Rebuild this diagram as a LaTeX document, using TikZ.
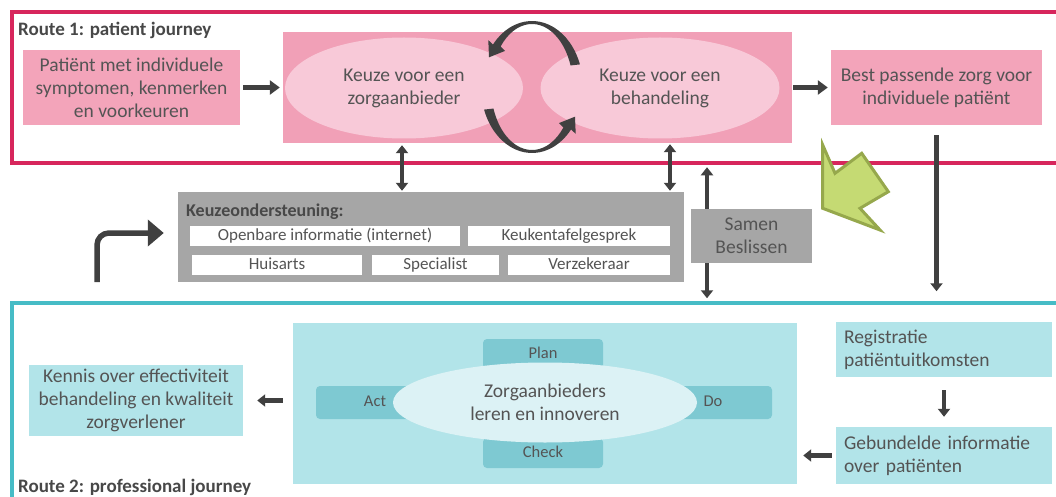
\documentclass[tikz,border=0pt]{standalone}
\usepackage{fontspec}
\setmainfont{Carlito}
\usetikzlibrary{positioning, arrows.meta, shapes.geometric, calc}
\definecolor{routered}{RGB}{215,38,92}
\definecolor{routeteal}{RGB}{70,188,198}
\definecolor{pinkbox}{RGB}{243,164,186}
\definecolor{pinkblock}{RGB}{241,160,183}
\definecolor{pinklight}{RGB}{248,201,216}
\definecolor{tealbox}{RGB}{178,228,233}
\definecolor{pdcateal}{RGB}{126,201,210}
\definecolor{teallight}{RGB}{220,242,245}
\definecolor{greybox}{RGB}{166,166,166}
\definecolor{txtgray}{RGB}{84,84,84}
\definecolor{lblgray}{RGB}{72,72,72}
\definecolor{arrowgray}{RGB}{64,64,64}
\definecolor{greenfill}{RGB}{197,218,115}
\definecolor{greenedge}{RGB}{150,168,76}

\begin{document}
\begin{tikzpicture}[x=1pt, y=-1pt,
    box/.style={rectangle, align=center, inner sep=0pt, text=txtgray, font=\fontsize{19.5}{23}\selectfont},
    ell/.style={ellipse, align=center, inner sep=0pt, text=txtgray, font=\fontsize{19.5}{23}\selectfont},
    tag/.style={rectangle, fill=white, inner sep=0pt, minimum height=20pt, text height=12pt, text depth=3.5pt, text=txtgray, font=\fontsize{17}{19}\selectfont},
    pdca/.style={rectangle, rounded corners=4pt, fill=pdcateal, inner sep=0pt, text height=12pt, text depth=3.5pt, text=txtgray, font=\fontsize{16.5}{19}\selectfont},
    frame/.style={rectangle, draw, line width=3.5pt, inner sep=0pt},
    route/.style={anchor=west, inner sep=0pt, text=lblgray, font=\fontsize{19}{21}\selectfont\bfseries},
    arr/.style={-{Triangle[length=10pt,width=14pt]}, line width=5.5pt, draw=arrowgray},
    sarr/.style={-{Triangle[length=8pt,width=12pt]}, line width=4.5pt, draw=arrowgray},
    dbl/.style={{Triangle[length=8pt,width=12pt]}-{Triangle[length=8pt,width=12pt]}, line width=4.5pt, draw=arrowgray}
]
    \useasboundingbox (0,0) rectangle (1056,497);
    \clip (0,0) rectangle (1056,497);
    \fill[white] (0,0) rectangle (1056,497);

    % route frames
    \node[frame, draw=routered, minimum width=1062pt, minimum height=151pt] (redframe) at (543,87.5) {};
    \node[frame, draw=routeteal, minimum width=1062pt, minimum height=210pt] (tealframe) at (543,408) {};
    \node[route] (route1) at (18,30) {Route 1: patient journey};
    \node[route] (route2) at (18,487) {Route 2: professional journey};

    % patient journey
    \node[box, fill=pinkbox, minimum width=217pt, minimum height=75pt] (patient) at (131.5,87.5) {Patiënt met individuele\\symptomen, kenmerken\\en voorkeuren};
    \node[box, fill=pinkblock, minimum width=509pt, minimum height=111pt] (keuzeblok) at (537.5,87.5) {};
    \node[ell, fill=pinklight, minimum width=238pt, minimum height=101pt] (aanbieder) at (404,88) {Keuze voor een\\zorgaanbieder};
    \node[ell, fill=pinklight, minimum width=239pt, minimum height=101pt] (behandeling) at (660,88) {Keuze voor een\\behandeling};
    \node[box, fill=pinkbox, minimum width=211pt, minimum height=75pt] (bestzorg) at (936.5,87.5) {Best passende zorg voor\\individuele patiënt};

    % cycle between the two choices
    \fill[arrowgray] (532,87) ++(-20:51 and 66) arc[start angle=-20, end angle=-140, x radius=51, y radius=66]
        -- (488.3,40.1) -- (489,57.3) -- (505.1,50.9) -- (500.6,46.5)
        arc[start angle=-140, end angle=-20, x radius=41, y radius=63] -- cycle;
    \fill[arrowgray] (532,87) ++(160:51 and 66) arc[start angle=160, end angle=40, x radius=51, y radius=66]
        -- (575.7,133.9) -- (575,116.7) -- (558.9,123.1) -- (563.4,127.5)
        arc[start angle=40, end angle=160, x radius=41, y radius=63] -- cycle;

    \draw[arr, shorten <=3pt, shorten >=3pt] (patient) -- (keuzeblok);
    \draw[arr, shorten <=1pt, shorten >=3pt] (keuzeblok) -- (bestzorg);

    % keuzeondersteuning
    \node[box, fill=greybox, minimum width=506pt, minimum height=90pt] (steun) at (431,237) {};
    \node[anchor=west, inner sep=0pt, text=lblgray, font=\fontsize{18}{20}\selectfont\bfseries] (steuntitel) at (186,212) {Keuzeondersteuning:};
    \node[tag, minimum width=270pt] (openbaar) at (325,236) {Openbare informatie (internet)};
    \node[tag, minimum width=202pt] (keukentafel) at (569,236) {Keukentafelgesprek};
    \node[tag, minimum width=170pt] (huisarts) at (277,265) {Huisarts};
    \node[tag, minimum width=127pt] (specialist) at (435.5,265) {Specialist};
    \node[tag, minimum width=162pt] (verzekeraar) at (589,265) {Verzekeraar};

    \coordinate (d1) at (402,0);
    \coordinate (d2) at (670,0);
    \coordinate (sb) at (707,0);
    \draw[dbl, shorten <=2pt, shorten >=1pt] (d1 |- keuzeblok.south) -- (d1 |- steun.north);
    \draw[dbl, shorten <=1pt, shorten >=1pt] (d2 |- keuzeblok.south) -- (d2 |- steun.north);
    \draw[dbl, shorten <=2.5pt, shorten >=3pt] (sb |- redframe.south) -- (sb |- tealframe.north);
    \node[box, fill=greybox, minimum width=121pt, minimum height=54pt] (samen) at (751.5,236) {Samen\\Beslissen};

    \coordinate (bend) at (97,282);
    \draw[-{Triangle[length=16pt,width=26pt]}, line width=5.5pt, draw=arrowgray, rounded corners=12pt] (bend) |- ([xshift=-14pt, yshift=4pt]steun.west);

    \draw[line width=3pt, draw=greenedge, fill=greenfill] (822.7,145) -- (835,173.3) -- (861.7,153.3) -- (888.3,191.7) -- (860,208.3) -- (880,230) -- (822.7,208.3) -- cycle;

    \draw[sarr, shorten <=10pt, shorten >=10pt] (bestzorg.south) -- (bestzorg.south |- tealframe.north);

    % professional journey
    \node[box, fill=tealbox, minimum width=214pt, minimum height=71pt] (kennis) at (136,400.5) {Kennis over effectiviteit\\behandeling en kwaliteit\\zorgverlener};
    \node[box, fill=tealbox, minimum width=504pt, minimum height=161pt] (leerblok) at (545,403.5) {};
    \node[pdca, minimum width=120pt, minimum height=30pt] (plan) at (543,354) {Plan};
    \node[pdca, minimum width=120pt, minimum height=30pt] (check) at (543,453) {Check};
    \node[pdca, minimum width=118pt, minimum height=33pt] (act) at (375,402.5) {Act};
    \node[pdca, minimum width=118pt, minimum height=33pt] (do) at (713,402.5) {Do};
    \node[ell, fill=teallight, minimum width=304pt, minimum height=80pt] (leren) at (545,402.5) {Zorgaanbieders\\leren en innoveren};
    \node[box, fill=tealbox, minimum width=216pt, minimum height=55pt, text width=200pt, align=left] (registratie) at (944,349.5) {Registratie\\patiëntuitkomsten};
    \node[box, fill=tealbox, minimum width=216pt, minimum height=57pt, text width=200pt, align=left] (gebundeld) at (944,455.5) {Gebundelde informatie\\over patiënten};

    \draw[sarr, shorten <=13pt, shorten >=10pt] (registratie.south) -- (gebundeld.north);
    \draw[sarr, shorten <=4pt, shorten >=6pt] (gebundeld.west) -- (gebundeld.west -| leerblok.east);
    \draw[sarr, shorten <=10pt, shorten >=14pt] (leerblok.west |- kennis.east) -- (kennis.east);
\end{tikzpicture}
\end{document}
